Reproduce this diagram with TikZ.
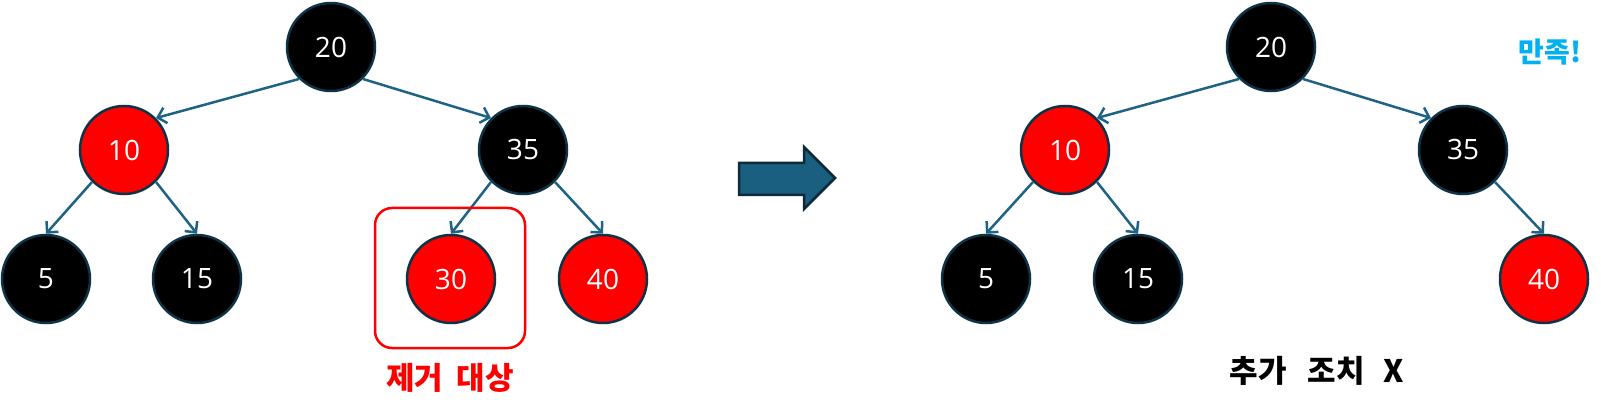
\documentclass[tikz,border=0pt]{standalone}
\usepackage{fontspec}
\setmainfont{Open Sans}
\newfontfamily\kr{Noto Sans CJK KR}
\usetikzlibrary{arrows.meta}
\definecolor{edgeblue}{HTML}{1F6384}
\definecolor{nodeline}{HTML}{0E3347}
\definecolor{bigarrow}{HTML}{1A5F80}
\definecolor{bigarrowline}{HTML}{0C2A3A}
\definecolor{rbred}{HTML}{FF0000}
\definecolor{okcyan}{HTML}{00B0F0}
\tikzset{
  rbnode/.style={circle, minimum size=88pt, inner sep=0pt, draw=nodeline, line width=2.5pt, text=white, font=\fontsize{28}{30}\selectfont},
  blacknode/.style={rbnode, fill=black},
  rednode/.style={rbnode, fill=rbred},
  edge/.style={draw=edgeblue, line width=2.5pt, -{Straight Barb[length=8pt,width=16pt]}},
  krlabel/.style={font=\kr\bfseries\fontsize{31}{34}\selectfont, inner sep=0pt}
}
\begin{document}
\begin{tikzpicture}[x=1pt,y=-1pt]
\useasboundingbox (0,0) rectangle (1601,414);
% left tree
\node[blacknode] (L20) at (331,47) {20};
\node[rednode] (L10) at (124,150) {10};
\node[blacknode] (L35) at (523,150) {35};
\node[blacknode] (L5) at (46,279) {5};
\node[blacknode] (L15) at (197,279) {15};
\node[rednode] (L30) at (451,279) {30};
\node[rednode] (L40) at (603,279) {40};
\draw[edge] (L20.south west) -- (L10.north east);
\draw[edge] (L20.south east) -- (L35.north west);
\draw[edge] (L10.south west) -- (L5.north);
\draw[edge] (L10.south east) -- (L15.north);
\draw[edge] (L35.south west) -- (L30.north);
\draw[edge] (L35.south east) -- (L40.north);
\node[draw=rbred, line width=2.5pt, rounded corners=17pt, minimum width=150pt, minimum height=140pt, inner sep=0pt] (box) at (450,278) {};
\node[krlabel, text=rbred] (lbl1) at (450,378) {제거\hspace{6pt} 대상};
% big arrow
\draw[draw=bigarrowline, fill=bigarrow, line width=2.5pt]
  (739,163) -- (804,163) -- (804,147) -- (835,178) -- (804,209) -- (804,195) -- (739,195) -- cycle;
% right tree
\node[blacknode] (R20) at (1271,47) {20};
\node[rednode] (R10) at (1065,150) {10};
\node[blacknode] (R35) at (1463,150) {35};
\node[blacknode] (R5) at (986,279) {5};
\node[blacknode] (R15) at (1138,279) {15};
\node[rednode] (R40) at (1544,279) {40};
\draw[edge] (R20.south west) -- (R10.north east);
\draw[edge] (R20.south east) -- (R35.north west);
\draw[edge] (R10.south west) -- (R5.north);
\draw[edge] (R10.south east) -- (R15.north);
\draw[edge] (R35.south east) -- (R40.north);
\node[krlabel, text=black] (lbl2) at (1317,371) {추가\hspace{14pt} 조치\hspace{12pt} X};
\node[krlabel, text=okcyan, font=\kr\bfseries\fontsize{28}{30}\selectfont] (lbl3) at (1550,52) {만족!};
\end{tikzpicture}
\end{document}
